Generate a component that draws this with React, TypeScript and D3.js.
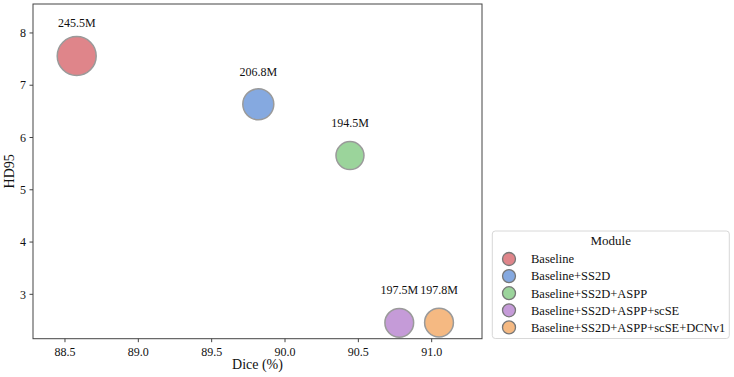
import React from "react";
import * as d3 from "d3";

const modules = [
  "Baseline",
  "Baseline+SS2D",
  "Baseline+SS2D+ASPP",
  "Baseline+SS2D+ASPP+scSE",
  "Baseline+SS2D+ASPP+scSE+DCNv1",
];
const dice = [88.58, 89.818, 90.443, 90.779, 91.05];
const hd95 = [7.56, 6.636, 5.654, 2.455, 2.46];
const params = [245.5, 206.8, 194.5, 197.5, 197.8];
const colors = ["#df858a", "#85a9e0", "#9bd49b", "#c59bd8", "#f5b982"];
const xTicks = [88.5, 89.0, 89.5, 90.0, 90.5, 91.0];
const yTicks = [3, 4, 5, 6, 7, 8];

const W = 734;
const H = 377;
const font = "Liberation Serif, DejaVu Serif, serif";

export default function App() {
  const left = 33;
  const right = 482;
  const top = 4;
  const bottom = 338.7;

  const x = d3.scaleLinear().domain([88.282, 91.343]).range([left, right]);
  const y = d3.scaleLinear().domain([2.151, 8.554]).range([bottom, top]);
  // bubble area grows with the parameter count
  const area = d3.scaleLinear().domain([194.5, 245.5]).range([196, 380]);
  const r = (p: number) => Math.sqrt(area(p));

  const legX = 492.3;
  const legY = 231;
  const legW = 237;
  const legH = 107.5;

  return (
    <svg width={W} height={H} style={{ position: "absolute", left: 0, top: 0, fontFamily: font }}>
      <rect width={W} height={H} fill="#fff" />
      {/* bubbles */}
      {modules.map((m, i) => (
        <g key={m}>
          <circle
            cx={x(dice[i])}
            cy={y(hd95[i])}
            r={r(params[i])}
            fill={colors[i]}
            stroke="#9a9a9a"
            strokeWidth={1.5}
          />
          <text
            x={x(dice[i])}
            y={y(hd95[i]) - 28.5}
            textAnchor="middle"
            fontSize={12}
            fill="#111"
          >
            {params[i].toFixed(1)}M
          </text>
        </g>
      ))}
      {/* frame */}
      <rect x={left} y={top} width={right - left} height={bottom - top} fill="none" stroke="#444" strokeWidth={1} />
      {/* x ticks */}
      {xTicks.map((t) => (
        <g key={t} transform={`translate(${x(t)},${bottom})`}>
          <line y2={3.5} stroke="#444" />
          <text y={17} textAnchor="middle" fontSize={12} fill="#111">
            {t.toFixed(1)}
          </text>
        </g>
      ))}
      {/* y ticks */}
      {yTicks.map((t) => (
        <g key={t} transform={`translate(${left},${y(t)})`}>
          <line x2={-3.5} stroke="#444" />
          <text x={-7} dy="0.35em" textAnchor="end" fontSize={12} fill="#111">
            {t}
          </text>
        </g>
      ))}
      <text x={(left + right) / 2} y={369} textAnchor="middle" fontSize={14} fill="#111">
        Dice (%)
      </text>
      <text
        transform={`translate(13.5,${(top + bottom) / 2}) rotate(-90)`}
        textAnchor="middle"
        fontSize={14}
        fill="#111"
      >
        HD95
      </text>
      {/* legend */}
      <rect x={legX} y={legY} width={legW} height={legH} rx={3} fill="#fff" stroke="#d8d8d8" strokeWidth={1} />
      <text x={legX + legW / 2} y={legY + 13.5} textAnchor="middle" fontSize={13} fill="#111">
        Module
      </text>
      {modules.map((m, i) => {
        const cy = legY + 28 + i * 17.1;
        return (
          <g key={m}>
            <circle cx={509} cy={cy} r={6.5} fill={colors[i]} stroke="#777" strokeWidth={1.3} />
            <text x={531} y={cy} dy="0.35em" fontSize={12.5} fill="#111">
              {m}
            </text>
          </g>
        );
      })}
    </svg>
  );
}
